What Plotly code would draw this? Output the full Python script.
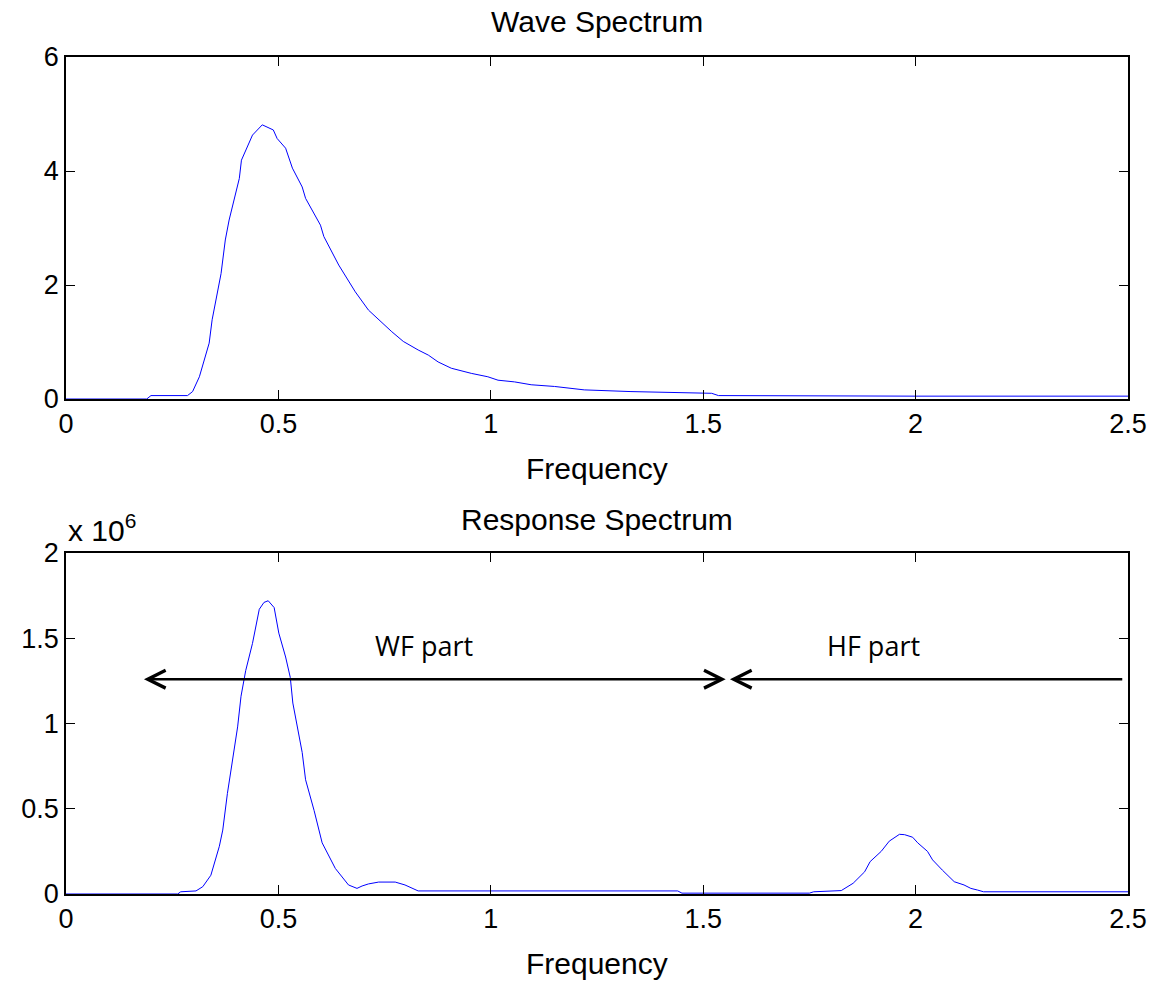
import plotly.graph_objects as go

# Wave spectrum S(w)
wave_freq = [0.0, 0.19, 0.20, 0.286, 0.298, 0.314, 0.337, 0.344, 0.365, 0.375, 0.384,
             0.408, 0.413, 0.439, 0.462, 0.488, 0.497, 0.517, 0.533, 0.556, 0.564,
             0.599, 0.607, 0.642, 0.681, 0.712, 0.767, 0.794, 0.829, 0.853, 0.876,
             0.907, 0.954, 0.993, 1.017, 1.056, 1.095, 1.150, 1.22, 1.33, 1.52,
             1.536, 2.0, 2.5]
wave_spec = [0.0, 0.0, 0.06, 0.06, 0.13, 0.39, 0.98, 1.39, 2.20, 2.79, 3.14,
             3.87, 4.19, 4.63, 4.81, 4.72, 4.57, 4.40, 4.05, 3.72, 3.52,
             3.05, 2.85, 2.35, 1.88, 1.56, 1.18, 1.01, 0.86, 0.77, 0.65,
             0.54, 0.45, 0.39, 0.33, 0.30, 0.25, 0.22, 0.16, 0.13, 0.10,
             0.06, 0.05, 0.05]

# Response spectrum (units of 1e6)
resp_freq = [0.0, 0.263, 0.27, 0.306, 0.322, 0.341, 0.361, 0.369, 0.380, 0.392,
             0.404, 0.412, 0.423, 0.439, 0.455, 0.466, 0.476, 0.490, 0.501,
             0.517, 0.528, 0.534, 0.544, 0.556, 0.564, 0.584, 0.603, 0.634,
             0.665, 0.685, 0.697, 0.712, 0.736, 0.775, 0.798, 0.829, 1.44,
             1.45, 1.75, 1.76, 1.825, 1.853, 1.880, 1.893, 1.919, 1.938, 1.962,
             1.974, 1.993, 2.005, 2.028, 2.040, 2.063, 2.091, 2.114, 2.130,
             2.146, 2.16, 2.5]
resp_spec = [0.0, 0.0, 0.013, 0.018, 0.043, 0.11, 0.28, 0.375, 0.59, 0.79,
             0.98, 1.16, 1.31, 1.47, 1.67, 1.71, 1.72, 1.68, 1.53,
             1.39, 1.27, 1.12, 0.98, 0.83, 0.67, 0.49, 0.30, 0.15,
             0.053, 0.033, 0.047, 0.059, 0.070, 0.070, 0.053, 0.018, 0.018,
             0.005, 0.005, 0.013, 0.02, 0.063, 0.13, 0.19, 0.25, 0.31, 0.35,
             0.348, 0.333, 0.30, 0.25, 0.20, 0.14, 0.072, 0.053, 0.033,
             0.023, 0.013, 0.013]

x_ticks = [0, 0.5, 1, 1.5, 2, 2.5]
x_tick_text = ["0", "0.5", "1", "1.5", "2", "2.5"]
wave_ticks = [0, 2, 4, 6]
resp_ticks = [0, 0.5, 1, 1.5, 2]
resp_tick_text = ["0", "0.5", "1", "1.5", "2"]

# Band split markers (frequency) and label height for the response plot
wf_band = [0.18, 1.553]
hf_band = [1.563, 2.49]
band_arrow_y = 1.26
band_label_y = 1.46
wf_label_x = 0.843
hf_label_x = 1.90

LINE_BLUE = "#0000FF"
TICK_FONT = dict(family="Liberation Sans, Arial, sans-serif", size=27, color="black")
LABEL_FONT = dict(family="Liberation Sans, Arial, sans-serif", size=30, color="black")
PART_FONT = dict(family="Open Sans, sans-serif", size=27, color="black")

fig = go.Figure()
fig.add_trace(go.Scatter(x=wave_freq, y=wave_spec, mode="lines",
                         line=dict(color=LINE_BLUE, width=1), xaxis="x", yaxis="y",
                         showlegend=False, hoverinfo="skip"))
fig.add_trace(go.Scatter(x=resp_freq, y=resp_spec, mode="lines",
                         line=dict(color=LINE_BLUE, width=1), xaxis="x2", yaxis="y2",
                         showlegend=False, hoverinfo="skip"))

axis_common = dict(showline=True, linecolor="black", linewidth=1.5, mirror="ticks",
                   ticks="inside", ticklen=9, tickwidth=1, tickcolor="black",
                   showgrid=False, zeroline=False, tickfont=TICK_FONT)

fig.update_layout(
    width=1159, height=985,
    margin=dict(l=66, r=26, t=57, b=91),
    plot_bgcolor="white", paper_bgcolor="white",
    xaxis=dict(domain=[0, 1], range=[0, 2.5], tickvals=x_ticks, ticktext=x_tick_text,
               anchor="y", **axis_common),
    yaxis=dict(domain=[0.5914, 1], range=[0, 6], tickvals=wave_ticks, anchor="x",
               **axis_common),
    xaxis2=dict(domain=[0, 1], range=[0, 2.5], tickvals=x_ticks, ticktext=x_tick_text,
                anchor="y2", **axis_common),
    yaxis2=dict(domain=[0, 0.4074], range=[0, 2], tickvals=resp_ticks,
                ticktext=resp_tick_text, anchor="x2", **axis_common),
)

annotations = [
    dict(text="Wave Spectrum", xref="x domain", yref="y domain", x=0.5, y=1,
         xanchor="center", yanchor="bottom", yshift=17, showarrow=False, font=LABEL_FONT),
    dict(text="Frequency", xref="x domain", yref="y domain", x=0.5, y=0,
         xanchor="center", yanchor="top", yshift=-51, showarrow=False, font=LABEL_FONT),
    dict(text="Response Spectrum", xref="x2 domain", yref="y2 domain", x=0.5, y=1,
         xanchor="center", yanchor="bottom", yshift=15, showarrow=False, font=LABEL_FONT),
    dict(text="Frequency", xref="x2 domain", yref="y2 domain", x=0.5, y=0,
         xanchor="center", yanchor="top", yshift=-51, showarrow=False, font=LABEL_FONT),
    dict(text="x 10<sup>6</sup>", xref="x2 domain", yref="y2 domain", x=0, y=1,
         xanchor="left", yanchor="bottom", yshift=4, showarrow=False, font=LABEL_FONT),
    dict(text="WF part", xref="x2", yref="y2", x=wf_label_x, y=band_label_y,
         showarrow=False, font=PART_FONT),
    dict(text="HF part", xref="x2", yref="y2", x=hf_label_x, y=band_label_y,
         showarrow=False, font=PART_FONT),
    # WF band: double-headed arrow
    dict(text="", xref="x2", yref="y2", axref="x2", ayref="y2",
         x=wf_band[1], y=band_arrow_y, ax=wf_band[0], ay=band_arrow_y,
         showarrow=True, arrowhead=5, startarrowhead=5, arrowside="end+start",
         arrowsize=1.4, startarrowsize=1.4, arrowwidth=2.5, arrowcolor="black"),
    # HF band: arrow pointing back to the split frequency
    dict(text="", xref="x2", yref="y2", axref="x2", ayref="y2",
         x=hf_band[0], y=band_arrow_y, ax=hf_band[1], ay=band_arrow_y,
         showarrow=True, arrowhead=5, arrowside="end",
         arrowsize=1.4, arrowwidth=2.5, arrowcolor="black"),
]
fig.update_layout(annotations=annotations)

fig.write_html("out.html")
